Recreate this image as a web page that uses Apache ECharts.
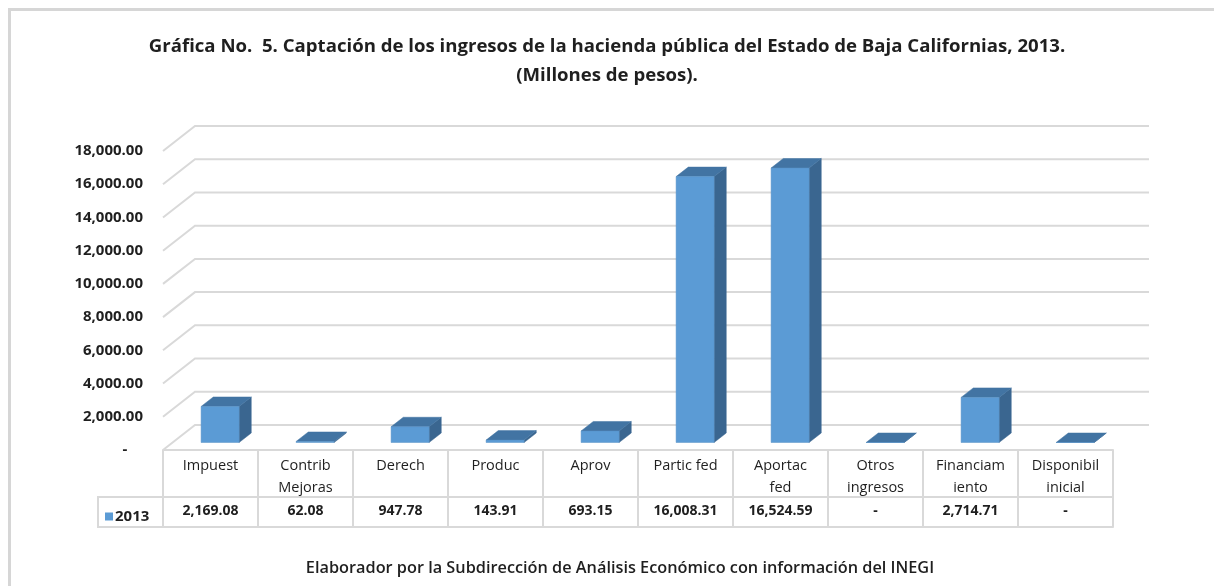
<!DOCTYPE html>
<html>
<head>
<meta charset="utf-8">
<script src="https://cdn.jsdelivr.net/npm/echarts@6/dist/echarts.min.js"></script>
<style>
  html, body { margin: 0; padding: 0; background: #fff; }
  #main { width: 1214px; height: 586px; }
</style>
</head>
<body>
<div id="main"></div>
<script>
// datos
const categorias = ['Impuest', 'Contrib\nMejoras', 'Derech', 'Produc', 'Aprov',
  'Partic fed', 'Aportac\nfed', 'Otros\ningresos', 'Financiam\niento', 'Disponibil\ninicial'];
const valores2013 = [2169.08, 62.08, 947.78, 143.91, 693.15, 16008.31, 16524.59, 0, 2714.71, 0];
const ticksY = [0, 2000, 4000, 6000, 8000, 10000, 12000, 14000, 16000, 18000];

const FONT = "'Open Sans', 'Noto Sans', sans-serif";
const TXT = '#1f1f1f';
const GRIS = '#d9d9d9';
// desplazamiento de profundidad (pared del fondo)
const DX = 32, DY = 25;
const D1 = 0.3, D2 = 0.68;

const fmt = v => v === 0 ? '-' : v.toLocaleString('en-US', { minimumFractionDigits: 2, maximumFractionDigits: 2 });

const chart = echarts.init(document.getElementById('main'));

const option = {
  animation: false,
  title: {
    text: 'Gráfica No.  5. Captación de los ingresos de la hacienda pública del Estado de Baja Californias, 2013.\n(Millones de pesos).',
    left: 'center',
    top: 27,
    textStyle: { fontFamily: FONT, fontSize: 18.6, fontWeight: 'bold', color: TXT, lineHeight: 29 }
  },
  legend: {
    data: ['2013'],
    left: 100,
    top: 504,
    icon: 'rect',
    itemWidth: 8,
    itemHeight: 8,
    itemGap: 4,
    textStyle: { fontFamily: FONT, fontSize: 15, fontWeight: 'bold', color: TXT, padding: [0, 0, 0, -3] }
  },
  grid: { left: 163, right: 101, top: 151, bottom: 136 },
  xAxis: [
    {
      type: 'category',
      data: categorias,
      axisLine: { lineStyle: { color: GRIS, width: 2 } },
      axisTick: { show: true, length: 77, lineStyle: { color: GRIS, width: 2 } },
      axisLabel: {
        interval: 0, margin: 5, verticalAlign: 'top', lineHeight: 22,
        fontFamily: FONT, fontSize: 14.5, color: TXT
      },
      splitLine: { show: false }
    },
    {
      type: 'category',
      data: categorias,
      position: 'bottom',
      offset: 47,
      axisLine: { lineStyle: { color: GRIS, width: 2 } },
      axisTick: { show: false },
      axisLabel: {
        interval: 0, margin: 7,
        fontFamily: FONT, fontSize: 14, fontWeight: 'bold', color: TXT,
        formatter: (val, idx) => fmt(valores2013[idx])
      }
    },
    {
      type: 'category',
      data: categorias,
      position: 'bottom',
      offset: 77,
      axisLine: { lineStyle: { color: GRIS, width: 2 } },
      axisTick: { show: false },
      axisLabel: { show: false }
    }
  ],
  yAxis: {
    type: 'value',
    min: 0,
    max: 18000,
    interval: 2000,
    axisLine: { show: false },
    axisTick: { show: false },
    splitLine: { show: false },
    axisLabel: {
      margin: 20,
      fontFamily: FONT, fontSize: 15, fontWeight: 'bold', color: TXT,
      formatter: v => v === 0 ? '-    ' : fmt(v)
    }
  },
  graphic: [
    {
      type: 'rect',
      shape: { x: 9.5, y: 9.5, width: 1400, height: 800 },
      style: { fill: 'none', stroke: '#d6d6d6', lineWidth: 3 },
      silent: true
    },
    {
      type: 'polyline',
      shape: { points: [[163, 497], [98, 497], [98, 527], [163, 527]] },
      style: { stroke: GRIS, lineWidth: 2, fill: 'none' },
      silent: true
    },
    {
      type: 'text',
      x: 620,
      y: 568,
      style: {
        text: 'Elaborador por la Subdirección de Análisis Económico con información del INEGI',
        font: '600 16.3px ' + FONT,
        fill: TXT,
        textAlign: 'center',
        textVerticalAlign: 'middle'
      }
    }
  ],
  series: [
    {
      // paredes: líneas de división con profundidad
      type: 'custom',
      name: 'pared',
      silent: true,
      z: 1,
      data: ticksY.map(v => [0, v]),
      renderItem: (params, api) => {
        const cs = params.coordSys;
        const y = api.coord([0, api.value(1)])[1];
        return {
          type: 'polyline',
          shape: { points: [[cs.x, y], [cs.x + DX, y - DY], [cs.x + cs.width + DX + 4, y - DY]] },
          style: { stroke: GRIS, lineWidth: 2, fill: 'none' }
        };
      }
    },
    {
      type: 'custom',
      name: '2013',
      z: 3,
      itemStyle: { color: '#5b9bd5' },
      data: valores2013.map((v, i) => [i, v]),
      renderItem: (params, api) => {
        const i = api.value(0);
        const top = api.coord([i, api.value(1)]);
        const base = api.coord([i, 0]);
        const w = api.size([1, 0])[0] * 0.4;
        const xl = top[0] - w / 2, xr = top[0] + w / 2;
        const yt = top[1], yb = base[1];
        const fx = DX * D1, fy = DY * D1, bx = DX * D2, by = DY * D2;
        return {
          type: 'group',
          children: [
            {
              type: 'polygon',
              shape: { points: [[xr + fx, yt - fy], [xr + bx, yt - by], [xr + bx, yb - by], [xr + fx, yb - fy]] },
              style: { fill: '#3a6690', stroke: '#3a6690', lineWidth: 0.5 }
            },
            {
              type: 'polygon',
              shape: { points: [[xl + fx, yt - fy], [xr + fx, yt - fy], [xr + bx, yt - by], [xl + bx, yt - by]] },
              style: { fill: '#4274a3', stroke: '#4274a3', lineWidth: 0.5 }
            },
            {
              type: 'rect',
              shape: { x: xl + fx, y: yt - fy, width: w, height: yb - yt },
              style: { fill: '#5b9bd5', stroke: '#5a92c6', lineWidth: 0.5 }
            }
          ]
        };
      }
    }
  ]
};

chart.setOption(option);
window.addEventListener('resize', function () {
  chart.resize();
});
</script>
</body>
</html>
